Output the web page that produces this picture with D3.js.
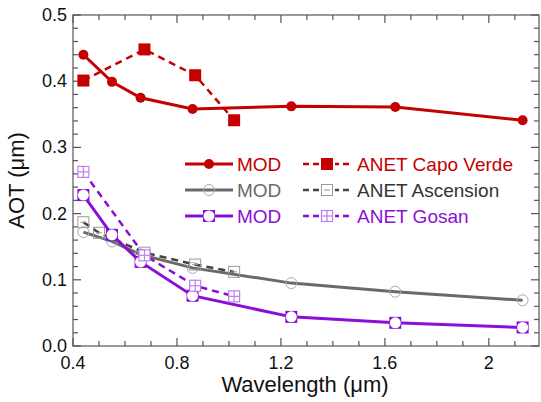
<!DOCTYPE html>
<html>
<head>
<meta charset="utf-8">
<script src="https://cdn.jsdelivr.net/npm/d3@7"></script>
<style>
  body { margin: 0; background: #fff; }
  text { font-family: "Liberation Sans", Arial, sans-serif; }
</style>
</head>
<body>
<div class="canvas"></div>
<script>
// data
const modWl = [0.44, 0.55, 0.66, 0.86, 1.24, 1.64, 2.13];
const anetWl = [0.44, 0.675, 0.87, 1.02];
const anetWlAsc = [0.44, 0.5, 0.675, 0.87, 1.02];

const modCapo = [0.44, 0.399, 0.375, 0.358, 0.362, 0.361, 0.341];
const anetCapo = [0.401, 0.448, 0.409, 0.341];
const modAsc = [0.172, 0.158, 0.138, 0.118, 0.095, 0.082, 0.069];
const anetAsc = [0.187, 0.171, 0.141, 0.123, 0.112];
const modGosan = [0.228, 0.168, 0.127, 0.076, 0.044, 0.035, 0.028];
const anetGosan = [0.263, 0.137, 0.091, 0.075];

const xTicks = [0.4, 0.8, 1.2, 1.6, 2];
const yTicks = [0.0, 0.1, 0.2, 0.3, 0.4, 0.5];

// dimensions
const margin = { top: 15, right: 2, bottom: 56, left: 73 };
const width = 541, height = 402;
const graphWidth = width - margin.left - margin.right;
const graphHeight = height - margin.top - margin.bottom;

const svg = d3.select('.canvas').append('svg')
  .attr('width', width).attr('height', height);

const graph = svg.append('g')
  .attr('transform', `translate(${margin.left}, ${margin.top})`);

const x = d3.scaleLinear().domain([0.4, 2.193]).range([0, graphWidth]);
const y = d3.scaleLinear().domain([0, 0.5]).range([graphHeight, 0]);

const red = '#c40000', gray = '#6a6a6a', purple = '#8a0fd6';

// frame + ticks (pointing inward)
const axisColor = '#555';
graph.append('rect')
  .attr('width', graphWidth).attr('height', graphHeight)
  .attr('fill', 'none').attr('stroke', axisColor).attr('stroke-width', 1.2);

const xMinor = d3.range(0.4, 2.19, 0.1);
const yMinor = d3.range(0, 0.5001, 0.02);
const isMajor = (v, step) => Math.abs(v / step - Math.round(v / step)) < 1e-6;

xMinor.forEach(v => {
  const len = isMajor(v, 0.4) ? 8 : 5;
  graph.append('line').attr('x1', x(v)).attr('x2', x(v))
    .attr('y1', graphHeight).attr('y2', graphHeight - len)
    .attr('stroke', axisColor).attr('stroke-width', 1.2);
  graph.append('line').attr('x1', x(v)).attr('x2', x(v))
    .attr('y1', 0).attr('y2', len)
    .attr('stroke', axisColor).attr('stroke-width', 1.2);
});
yMinor.forEach(v => {
  const len = isMajor(v, 0.1) ? 8 : 5;
  graph.append('line').attr('y1', y(v)).attr('y2', y(v))
    .attr('x1', 0).attr('x2', len)
    .attr('stroke', axisColor).attr('stroke-width', 1.2);
  graph.append('line').attr('y1', y(v)).attr('y2', y(v))
    .attr('x1', graphWidth).attr('x2', graphWidth - len)
    .attr('stroke', axisColor).attr('stroke-width', 1.2);
});

// tick labels
graph.selectAll('.xlab').data(xTicks).enter().append('text')
  .attr('x', d => x(d)).attr('y', graphHeight + 23)
  .attr('text-anchor', 'middle').attr('font-size', 18).attr('fill', '#111')
  .text(d => d === 2 ? '2' : d.toFixed(1));
graph.selectAll('.ylab').data(yTicks).enter().append('text')
  .attr('x', -6).attr('y', d => y(d) + 6)
  .attr('text-anchor', 'end').attr('font-size', 18).attr('fill', '#111')
  .text(d => d.toFixed(1));

// axis titles
svg.append('text')
  .attr('x', margin.left + 232).attr('y', 392)
  .attr('text-anchor', 'middle').attr('font-size', 22).attr('fill', '#111')
  .text('Wavelength (μm)');
svg.append('text')
  .attr('transform', `translate(24, ${margin.top + graphHeight / 2}) rotate(-90)`)
  .attr('text-anchor', 'middle').attr('font-size', 22).attr('fill', '#111')
  .text('AOT (μm)');

// line generator
const line = d3.line().x(d => x(d[0])).y(d => y(d[1]));
const zip = (a, b) => a.map((v, i) => [v, b[i]]);

const series = [
  { wl: modWl, v: modAsc, color: gray, width: 3, dash: null, marker: 'circleOpen' },
  { wl: anetWlAsc, v: anetAsc, color: '#444', width: 2.5, dash: '7,5', marker: 'squareLine' },
  { wl: modWl, v: modGosan, color: purple, width: 3, dash: null, marker: 'squareCircle' },
  { wl: anetWl, v: anetGosan, color: purple, width: 2.5, dash: '7,5', marker: 'squareCross' },
  { wl: modWl, v: modCapo, color: red, width: 3, dash: null, marker: 'dot' },
  { wl: anetWl, v: anetCapo, color: red, width: 2.5, dash: '7,5', marker: 'squareFill' }
];

function drawMarker(g, type, cx, cy) {
  if (type === 'dot') {
    g.append('circle').attr('cx', cx).attr('cy', cy).attr('r', 5).attr('fill', red);
  } else if (type === 'squareFill') {
    g.append('rect').attr('x', cx - 6).attr('y', cy - 6).attr('width', 12).attr('height', 12).attr('fill', red);
  } else if (type === 'circleOpen') {
    g.append('circle').attr('cx', cx).attr('cy', cy).attr('r', 5.5)
      .attr('fill', 'none').attr('stroke', '#aaa').attr('stroke-width', 1);
  } else if (type === 'squareLine') {
    g.append('rect').attr('x', cx - 5.5).attr('y', cy - 5.5).attr('width', 11).attr('height', 11)
      .attr('fill', 'none').attr('stroke', '#999').attr('stroke-width', 1);
    g.append('line').attr('x1', cx - 3).attr('x2', cx + 3).attr('y1', cy).attr('y2', cy)
      .attr('stroke', '#999').attr('stroke-width', 1);
  } else if (type === 'squareCircle') {
    g.append('rect').attr('x', cx - 6).attr('y', cy - 6).attr('width', 12).attr('height', 12).attr('fill', purple);
    g.append('circle').attr('cx', cx).attr('cy', cy).attr('r', 5.5).attr('fill', '#fff');
  } else if (type === 'squareCross') {
    const c = '#c07ef0';
    g.append('rect').attr('x', cx - 5.5).attr('y', cy - 5.5).attr('width', 11).attr('height', 11)
      .attr('fill', '#fff').attr('stroke', c).attr('stroke-width', 1.2);
    g.append('line').attr('x1', cx).attr('x2', cx).attr('y1', cy - 5.5).attr('y2', cy + 5.5)
      .attr('stroke', c).attr('stroke-width', 1.2);
    g.append('line').attr('x1', cx - 5.5).attr('x2', cx + 5.5).attr('y1', cy).attr('y2', cy)
      .attr('stroke', c).attr('stroke-width', 1.2);
  }
}

series.forEach(s => {
  const pts = zip(s.wl, s.v);
  graph.append('path').datum(pts)
    .attr('fill', 'none').attr('stroke', s.color)
    .attr('stroke-width', s.width)
    .attr('stroke-dasharray', s.dash)
    .attr('d', line);
  const mg = graph.append('g');
  pts.forEach(p => drawMarker(mg, s.marker, x(p[0]), y(p[1])));
});

// legend
const legendRows = [
  { mod: red, modText: red, modMarker: 'dot', anet: red, anetText: red, anetMarker: 'squareFill', label: 'ANET Capo Verde' },
  { mod: gray, modText: gray, modMarker: 'circleOpen', anet: '#444', anetText: '#333', anetMarker: 'squareLine', label: 'ANET Ascension' },
  { mod: purple, modText: purple, modMarker: 'squareCircle', anet: purple, anetText: purple, anetMarker: 'squareCross', label: 'ANET Gosan' }
];
const legend = svg.append('g');
legendRows.forEach((r, i) => {
  const ly = 164 + i * 26;
  legend.append('line').attr('x1', 185).attr('x2', 233).attr('y1', ly).attr('y2', ly)
    .attr('stroke', r.mod).attr('stroke-width', 3);
  drawMarker(legend, r.modMarker, 209, ly);
  legend.append('text').attr('x', 237).attr('y', ly + 7)
    .attr('font-size', 19).attr('fill', r.modText).text('MOD');
  legend.append('line').attr('x1', 303).attr('x2', 352).attr('y1', ly).attr('y2', ly)
    .attr('stroke', r.anet).attr('stroke-width', 2.5).attr('stroke-dasharray', '6,4');
  legend.append('rect').attr('x', 319).attr('y', ly - 7).attr('width', 16).attr('height', 14).attr('fill', '#fff');
  drawMarker(legend, r.anetMarker, 327, ly);
  legend.append('text').attr('x', 357).attr('y', ly + 7)
    .attr('font-size', 19).attr('fill', r.anetText).text(r.label);
});
</script>
</body>
</html>
